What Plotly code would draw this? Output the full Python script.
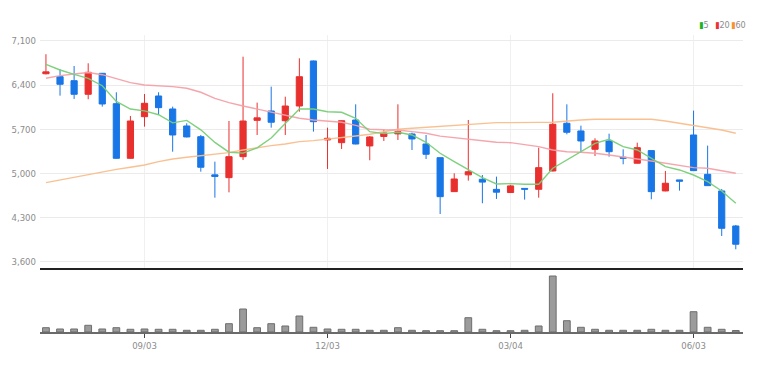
import pandas as pd
import plotly.graph_objects as go

# weekly candles
dates = pd.date_range("2018-07-16", periods=50, freq="7D")

open_ = [6580, 6533, 6470, 6254, 6587, 6105, 5238, 5899, 6227, 6021,
         5751, 5581, 4975, 4931, 5264, 5840, 5989, 5835, 6068, 6783,
         5530, 5486, 5846, 5434, 5585, 5625, 5624, 5465, 5248, 4709,
         4975, 4905, 4745, 4695, 4760, 4746, 5037, 5794, 5672, 5381,
         5513, 5255, 5160, 5360, 4720, 4895, 5608, 4984, 4720, 4164]
high = [6890, 6651, 6703, 6746, 6590, 6286, 5910, 6259, 6286, 6058,
        5794, 5608, 5185, 5830, 6851, 6121, 6375, 6216, 6825, 6790,
        5724, 5840, 6095, 5592, 5698, 6095, 5645, 5608, 5250, 5000,
        5846, 4973, 4947, 4815, 4762, 5407, 6270, 6095, 5756, 5556,
        5629, 5381, 5486, 5365, 5037, 4896, 5995, 5439, 4751, 4180]
low = [6570, 6232, 6180, 6175, 6058, 5230, 5230, 5740, 5926, 5343,
       5570, 5026, 4613, 4698, 5212, 5608, 5724, 5608, 5978, 5661,
       5069, 5386, 5460, 5207, 5513, 5529, 5370, 5227, 4354, 4705,
       4883, 4524, 4593, 4690, 4582, 4613, 5030, 5619, 5343, 5275,
       5264, 5143, 5155, 4588, 4715, 4725, 5040, 4800, 4005, 3794]
close = [6610, 6413, 6254, 6603, 6100, 5238, 5830, 6111, 6042, 5608,
         5577, 5096, 4950, 5264, 5830, 5880, 5810, 6068, 6533, 5819,
         5556, 5835, 5465, 5577, 5640, 5660, 5545, 5302, 4629, 4910,
         5025, 4860, 4700, 4800, 4748, 5090, 5778, 5651, 5513, 5513,
         5343, 5240, 5407, 4709, 4842, 4875, 5042, 4804, 4127, 3874]

ma5 = [6730, 6640, 6570, 6508, 6390, 6140, 6020, 5990, 5930, 5800,
       5840, 5690, 5490, 5335, 5320, 5405, 5560, 5794, 6021, 6021,
       5978, 5968, 5873, 5661, 5630, 5651, 5608, 5492, 5318, 5185,
       5053, 4931, 4831, 4836, 4826, 4826, 5080, 5212, 5343, 5476,
       5540, 5423, 5370, 5238, 5106, 5053, 4973, 4868, 4720, 4524]
ma20 = [6508, 6550, 6575, 6600, 6565, 6500, 6440, 6402, 6390, 6375,
        6349, 6286, 6190, 6121, 6068, 6021, 5968, 5926, 5873, 5846,
        5830, 5810, 5760, 5700, 5690, 5688, 5661, 5635, 5590, 5566,
        5540, 5513, 5492, 5486, 5450, 5423, 5370, 5343, 5333, 5318,
        5291, 5254, 5227, 5196, 5159, 5121, 5090, 5080, 5037, 5000]
ma60 = [4852, 4894, 4937, 4973, 5026, 5063, 5095, 5132, 5185, 5227,
        5254, 5280, 5302, 5328, 5370, 5407, 5440, 5465, 5502, 5518,
        5540, 5566, 5592, 5619, 5655, 5698, 5714, 5730, 5751, 5767,
        5778, 5794, 5804, 5804, 5810, 5808, 5810, 5830, 5846, 5857,
        5857, 5862, 5862, 5857, 5830, 5794, 5756, 5724, 5688, 5635]

volume = [43, 30, 30, 67, 30, 43, 27, 30, 27, 27,
          17, 17, 27, 83, 230, 43, 83, 60, 160, 47,
          30, 27, 27, 17, 17, 43, 17, 13, 13, 13,
          143, 27, 13, 13, 17, 60, 560, 113, 47, 27,
          17, 17, 17, 27, 17, 17, 203, 47, 27, 15]

tick_dates = ["2018-09-03", "2018-12-03", "2019-03-04", "2019-06-03"]
tick_labels = ["09/03", "12/03", "03/04", "06/03"]
price_ticks = [3600, 4300, 5000, 5700, 6400, 7100]

legend_names = ["5", "20", "60"]
legend_colors = ["#20b020", "#ee3030", "#f59330"]
line_colors = ["rgba(120,205,120,0.95)", "rgba(244,160,168,0.95)", "rgba(249,190,140,0.95)"]

RED = "#e8302e"
BLUE = "#1976e6"
TICKFONT = dict(family="Liberation Sans Narrow, DejaVu Sans Condensed, Arial Narrow, Liberation Sans, sans-serif",
                size=9.5, color="#8c8c8c")

fig = go.Figure()

fig.add_trace(go.Candlestick(
    x=dates, open=open_, high=high, low=low, close=close,
    increasing=dict(line=dict(color=RED, width=1), fillcolor=RED),
    decreasing=dict(line=dict(color=BLUE, width=1), fillcolor=BLUE),
    whiskerwidth=0, showlegend=False, xaxis="x", yaxis="y"))

for ma, col in zip([ma60, ma20, ma5], line_colors[::-1]):
    fig.add_trace(go.Scatter(x=dates, y=ma, mode="lines", line=dict(color=col, width=1.4),
                             hoverinfo="skip", showlegend=False, xaxis="x", yaxis="y"))

fig.add_trace(go.Bar(x=dates, y=volume, marker=dict(color="#9b9b9b", line=dict(color="#6e6e6e", width=1)),
                     showlegend=False, xaxis="x2", yaxis="y2"))

xr = ["2018-07-13 01:00", "2019-06-27 14:00"]
fig.update_layout(
    width=758, height=373,
    margin=dict(l=36, r=15, t=35, b=41),
    paper_bgcolor="white", plot_bgcolor="white",
    boxgap=0.56, boxgroupgap=0.0, bargap=0.52,
    xaxis=dict(domain=[0, 1], anchor="y", range=xr, type="date",
               tickvals=tick_dates, showticklabels=False, showgrid=True,
               gridcolor="#f0f0f0", gridwidth=1, zeroline=False,
               showline=True, linecolor="#222222", linewidth=2,
               rangeslider=dict(visible=False), ticks=""),
    yaxis=dict(domain=[0.2155, 1], anchor="x", range=[3497, 7195],
               tickvals=price_ticks, tickformat=",", tickfont=TICKFONT,
               showgrid=True, gridcolor="#ebebeb", gridwidth=1, zeroline=False,
               showline=False, ticks="", ticklabelstandoff=3),
    xaxis2=dict(domain=[0, 1], anchor="y2", range=xr, type="date", matches="x",
                tickvals=tick_dates, ticktext=tick_labels, tickfont=TICKFONT,
                showgrid=False, zeroline=False, showline=True,
                linecolor="#6a6a6a", linewidth=2, ticks="outside",
                ticklen=4, tickcolor="#444444", tickwidth=1),
    yaxis2=dict(domain=[0, 0.202], anchor="x2", range=[0, 600],
                showticklabels=False, showgrid=False, zeroline=False, showline=False),
    showlegend=False,
)

# compact legend in the top-right corner
lx = [0.935, 0.957, 0.980]
for name, col, x in zip(legend_names, legend_colors, lx):
    fig.add_annotation(xref="paper", yref="paper", x=x, y=1.0, yshift=3,
                       xanchor="left", yanchor="bottom", showarrow=False,
                       text=f"<span style='color:{col}'>▮</span>{name}",
                       font=dict(family=TICKFONT["family"], size=9, color="#8c8c8c"))

fig.write_html("out.html")
